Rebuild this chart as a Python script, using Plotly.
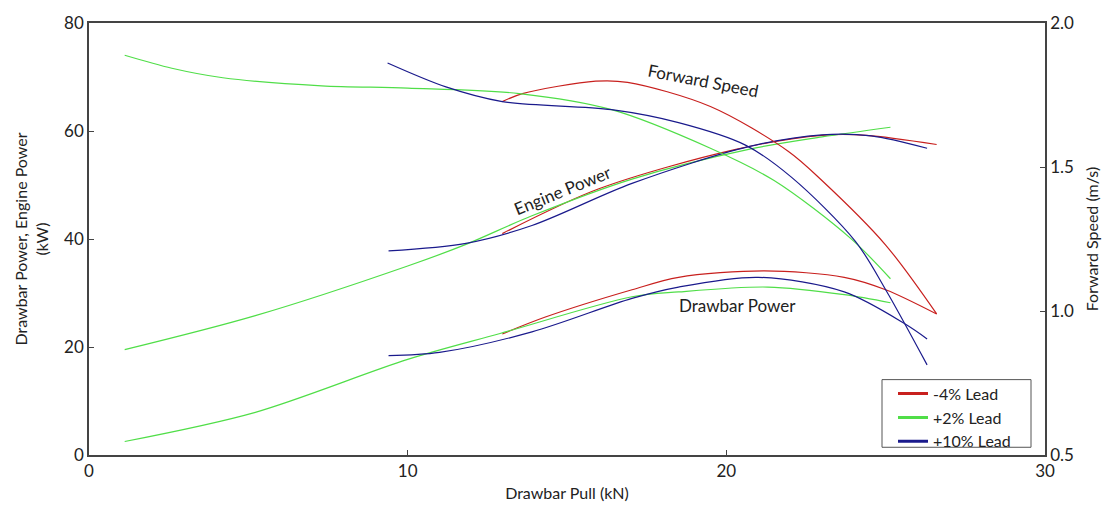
import plotly.graph_objects as go

# ---- data (Drawbar pull kN) ----
series_names = ["-4% Lead", "+2% Lead", "+10% Lead"]
colors = ["#c8201e", "#50de48", "#1a1a8c"]

# Forward speed (m/s)
speed_red_x = [12.97, 13.6, 15.9, 16.9, 19.5, 21.95, 23.0, 25.0, 26.6]
speed_red_y = [1.727, 1.755, 1.798, 1.794, 1.710, 1.554, 1.453, 1.229, 0.99]
speed_green_x = [1.12, 2.6, 4.2, 7.3, 10.0, 13.5, 16.4, 19.5, 21.5, 23.9, 25.15]
speed_green_y = [1.888, 1.843, 1.810, 1.782, 1.774, 1.755, 1.699, 1.565, 1.453, 1.252, 1.112]
speed_blue_x = [9.37, 11.2, 12.97, 16.4, 18.5, 20.6, 22.05, 24.05, 25.0, 26.3]
speed_blue_y = [1.861, 1.778, 1.727, 1.699, 1.654, 1.576, 1.464, 1.242, 1.074, 0.813]

# Engine power (kW)
engine_red_x = [12.97, 16.0, 20.3, 23.0, 24.4, 26.6]
engine_red_y = [41.0, 49.3, 56.6, 59.2, 59.2, 57.5]
engine_green_x = [1.12, 5.22, 10.0, 11.83, 13.9, 17.04, 20.7, 23.0, 25.15]
engine_green_y = [19.5, 25.8, 35.0, 39.0, 44.3, 51.1, 56.6, 58.9, 60.7]
engine_blue_x = [9.4, 11.83, 13.9, 17.04, 20.7, 23.0, 24.55, 26.3]
engine_blue_y = [37.8, 39.2, 42.5, 50.3, 57.1, 59.3, 59.1, 56.8]

# Drawbar power (kW)
drawbar_red_x = [12.97, 14.3, 17.04, 18.5, 21.2, 23.7, 25.0, 26.6]
drawbar_red_y = [22.4, 25.5, 30.6, 32.9, 34.1, 32.9, 30.6, 26.1]
drawbar_green_x = [1.12, 5.22, 10.0, 12.9, 17.04, 18.5, 21.3, 23.7, 25.15]
drawbar_green_y = [2.5, 7.9, 17.7, 22.5, 29.3, 30.2, 31.1, 29.7, 28.2]
drawbar_blue_x = [9.4, 11.0, 13.9, 17.04, 18.5, 21.0, 23.7, 25.6, 26.3]
drawbar_blue_y = [18.4, 19.0, 22.8, 29.0, 31.1, 32.9, 30.2, 24.3, 21.5]

FONT = "Lato"
AX = "#444444"
TXT = "#222222"

# plot-area pixel geometry (for placing decorations)
L, R, T, B = 89, 1045, 17, 464
def px(x):
    return (x - L) / (R - L)
def py(y):
    return (B - y) / (B - T)

fig = go.Figure()

power_sets = [
    (engine_red_x, engine_red_y, 0), (engine_green_x, engine_green_y, 1), (engine_blue_x, engine_blue_y, 2),
    (drawbar_red_x, drawbar_red_y, 0), (drawbar_green_x, drawbar_green_y, 1), (drawbar_blue_x, drawbar_blue_y, 2),
]
for xs, ys, ci in power_sets:
    fig.add_trace(go.Scatter(x=xs, y=ys, mode="lines",
                             line=dict(color=colors[ci], width=1.2, shape="spline", smoothing=0.9),
                             showlegend=False, hoverinfo="skip"))

speed_sets = [(speed_red_x, speed_red_y, 0), (speed_green_x, speed_green_y, 1), (speed_blue_x, speed_blue_y, 2)]
for xs, ys, ci in speed_sets:
    fig.add_trace(go.Scatter(x=xs, y=ys, mode="lines", yaxis="y2",
                             line=dict(color=colors[ci], width=1.2, shape="spline", smoothing=0.9),
                             showlegend=False, hoverinfo="skip"))

for name, c in zip(series_names, colors):
    fig.add_trace(go.Scatter(x=[None], y=[None], mode="lines", name=name, line=dict(color=c, width=3)))

fig.update_layout(
    width=1120, height=512,
    margin=dict(l=L, r=1120 - R, t=T, b=512 - B),
    paper_bgcolor="white", plot_bgcolor="white",
    font=dict(family=FONT, size=17, color=TXT),
    xaxis=dict(range=[0, 30], tickvals=[0, 10, 20, 30], ticks="inside", ticklen=5, tickcolor=AX,
               showline=True, linecolor=AX, linewidth=1.5, mirror=True, showgrid=False, zeroline=False,
               title=dict(text="Drawbar Pull (kN)", standoff=8, font=dict(size=16))),
    yaxis=dict(range=[0, 80], tickvals=[0, 20, 40, 60, 80], ticks="inside", ticklen=5, tickcolor=AX,
               showline=True, linecolor=AX, linewidth=1.5, showgrid=False, zeroline=False,
               title=dict(text="Drawbar Power, Engine Power<br>(kW)", standoff=12, font=dict(size=16))),
    yaxis2=dict(range=[0.5, 2.0], tickvals=[0.5, 1.0, 1.5, 2.0], tickformat=".1f", ticks="inside", ticklen=5,
                tickcolor=AX, overlaying="y", side="right", showline=True, linecolor=AX, linewidth=1.5,
                showgrid=False, zeroline=False,
                title=dict(text="Forward Speed (m/s)", standoff=14, font=dict(size=16))),
    legend=dict(x=px(893), y=py(383), xanchor="left", yanchor="top", bgcolor="rgba(0,0,0,0)",
                borderwidth=0, font=dict(size=16), tracegroupgap=0),
    shapes=[dict(type="rect", xref="paper", yref="paper", x0=px(882), x1=px(1031), y0=py(456), y1=py(386),
                 line=dict(color="#555555", width=1), fillcolor="white", layer="below")],
    annotations=[
        dict(text="Forward Speed", xref="paper", yref="paper", x=px(703), y=py(77),
             xanchor="center", yanchor="middle",
             showarrow=False, textangle=11, font=dict(size=17, color=TXT)),
        dict(text="Engine Power", xref="paper", yref="paper", x=px(562), y=py(190),
             xanchor="center", yanchor="middle",
             showarrow=False, textangle=-22, font=dict(size=17, color=TXT)),
        dict(text="Drawbar Power", xref="paper", yref="paper", x=px(737), y=py(309),
             xanchor="center", yanchor="middle",
             showarrow=False, font=dict(size=17, color=TXT)),
    ],
)

fig.write_html("out.html")
